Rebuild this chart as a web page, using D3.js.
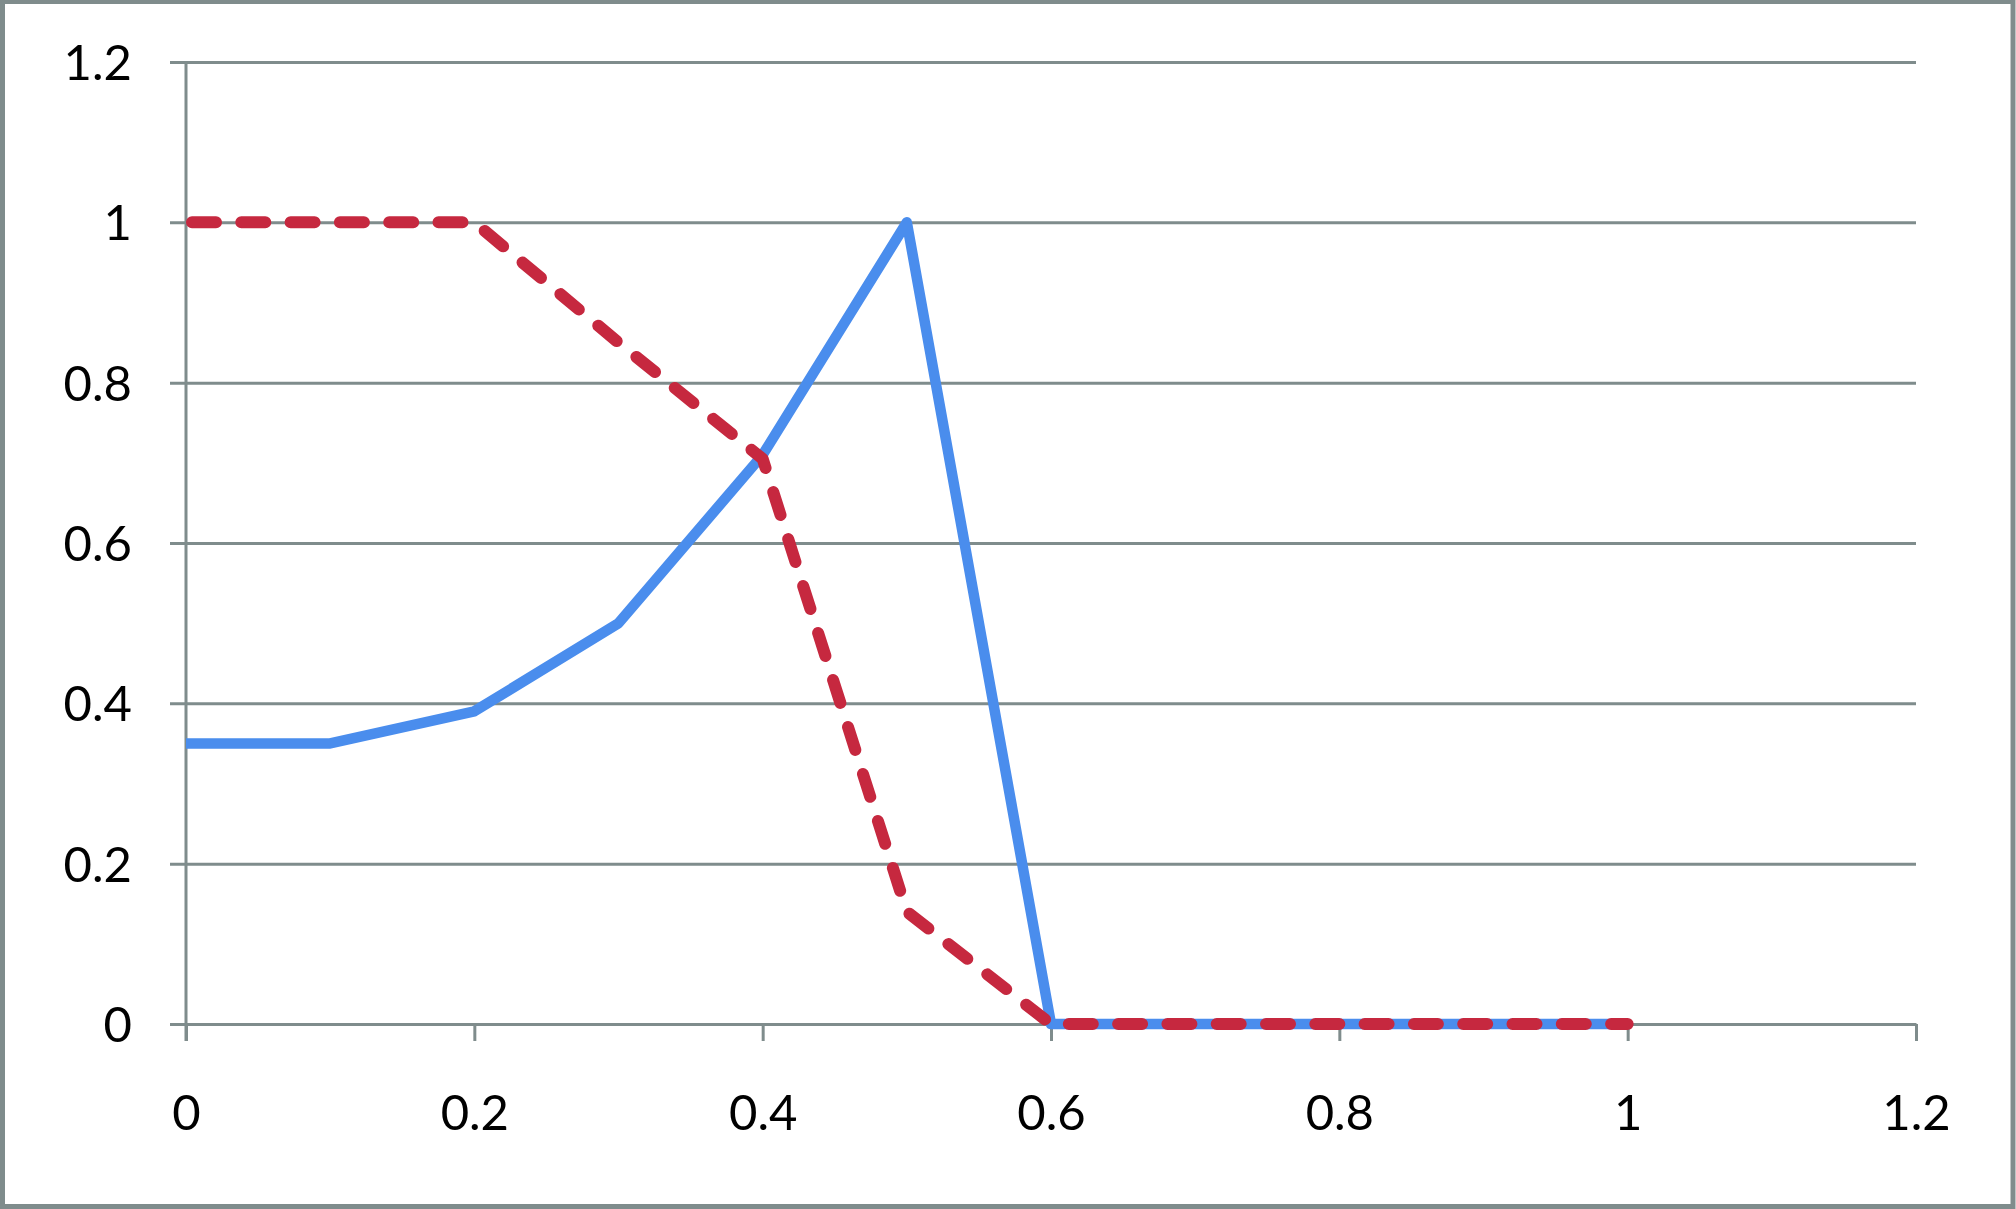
<!DOCTYPE html>
<html>
<head>
<meta charset="utf-8">
<script src="https://cdn.jsdelivr.net/npm/d3@7"></script>
<style>
html,body{margin:0;padding:0;background:#fff;}
svg{display:block;}
</style>
</head>
<body>
<svg id="chart" width="2016" height="1209"></svg>
<script>
const xValues = [0, 0.1, 0.2, 0.3, 0.4, 0.5, 0.6, 0.7, 0.8, 0.9, 1.0];
const blueSeries = [0.35, 0.35, 0.39, 0.5, 0.71, 1.0, 0, 0, 0, 0, 0];
const redSeries = [1.0, 1.0, 1.0, 0.85, 0.705, 0.14, 0, 0, 0, 0, 0];
const xTicks = [0, 0.2, 0.4, 0.6, 0.8, 1, 1.2];
const yTicks = [0, 0.2, 0.4, 0.6, 0.8, 1, 1.2];

(function () {
const W = 2016, H = 1209;
const mLeft = 186, mRight = 1916, mTop = 62, mBottom = 1024;
const svg = d3.select("#chart");
const gridColor = "#7f8c8c";
const font = "Lato, 'Open Sans', sans-serif";

// outer frame
svg.append("rect").attr("x", 2.5).attr("y", 1.5).attr("width", W - 5.5).attr("height", H - 4)
  .attr("fill", "#fff").attr("stroke", gridColor).attr("stroke-width", 5);

const x = d3.scaleLinear().domain([0, 1.2]).range([mLeft, mRight]);
const y = d3.scaleLinear().domain([0, 1.2]).range([mBottom, mTop]);

// Y axis with gridlines
const yAxis = d3.axisLeft(y).tickValues(yTicks).tickSize(-(mRight - mLeft)).tickSizeOuter(0)
  .tickFormat(d3.format("~g"));
const gy = svg.append("g").attr("transform", `translate(${mLeft},0)`).call(yAxis);
gy.select(".domain").remove();
gy.selectAll(".tick line").attr("stroke", gridColor).attr("stroke-width", 3)
  .attr("x1", -16);
gy.selectAll(".tick text").attr("x", -54).attr("dy", "0.36em")
  .attr("font-family", font).attr("font-size", 49).attr("fill", "#000");

// vertical axis line
svg.append("line").attr("x1", mLeft).attr("x2", mLeft).attr("y1", mTop).attr("y2", mBottom + 17)
  .attr("stroke", gridColor).attr("stroke-width", 3);

// X axis
const xAxis = d3.axisBottom(x).tickValues(xTicks).tickSize(17).tickSizeOuter(0)
  .tickFormat(d3.format("~g"));
const gx = svg.append("g").attr("transform", `translate(0,${mBottom})`).call(xAxis);
gx.select(".domain").attr("stroke", gridColor).attr("stroke-width", 3);
gx.selectAll(".tick line").attr("stroke", gridColor).attr("stroke-width", 3);
gx.selectAll(".tick text").attr("y", 88).attr("dy", "0.36em")
  .attr("font-family", font).attr("font-size", 49).attr("fill", "#000");

const line = d3.line().x(d => x(d[0])).y(d => y(d[1]));

svg.append("path")
  .datum(xValues.map((v, i) => [v, blueSeries[i]]))
  .attr("d", line)
  .attr("fill", "none").attr("stroke", "#4a8ded").attr("stroke-width", 10.5)
  .attr("stroke-linejoin", "round");

svg.append("path")
  .datum(xValues.map((v, i) => [v, redSeries[i]]))
  .attr("d", line)
  .attr("fill", "none").attr("stroke", "#c6283f").attr("stroke-width", 12)
  .attr("stroke-linejoin", "round").attr("stroke-linecap", "round")
  .attr("stroke-dasharray", "24 25.3").attr("stroke-dashoffset", -6);
})();
</script>
</body>
</html>
